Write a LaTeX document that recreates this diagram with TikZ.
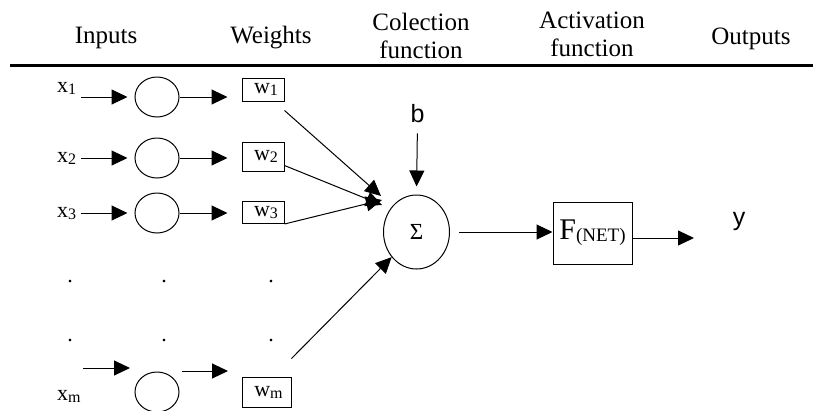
\documentclass[tikz,border=0pt]{standalone}
\usepackage{fontspec}
\setmainfont{Liberation Serif}
\newfontfamily\arialf{Liberation Sans}
\usetikzlibrary{arrows.meta,shapes.geometric}
\newcommand\sublab[2]{{\fontsize{22}{22}\selectfont #1\raisebox{-2pt}{\fontsize{16}{16}\selectfont #2}}}
\begin{document}
\begin{tikzpicture}[x=1pt,y=-1pt,
  hdr/.style={font=\fontsize{25}{28}\selectfont, align=center, inner sep=0pt},
  arr/.style={line width=1pt, -{Triangle[length=16pt,width=15pt]}},
  neuron/.style={draw, line width=1pt, ellipse, minimum width=44pt, minimum height=40pt, inner sep=0pt},
  wbox/.style={draw, line width=1pt, minimum width=42pt, minimum height=23pt, inner sep=0pt},
  lab/.style={inner sep=0pt, anchor=base west},
  dotlab/.style={inner sep=0pt, anchor=base, font=\fontsize{22}{22}\selectfont},
  sanslab/.style={inner sep=0pt, anchor=base, font=\arialf\fontsize{25}{25}\selectfont}]
\useasboundingbox (0,0) rectangle (813,410);

% headers
\node[hdr, anchor=base] (hin) at (106,43) {Inputs};
\node[hdr, anchor=base] (hw) at (271,43) {Weights};
\node[hdr, anchor=north] (hcol) at (421,13) {Colection\\function};
\node[hdr, anchor=north] (hact) at (592,12) {Activation\\function};
\node[hdr, anchor=base] (hout) at (751,44) {Outputs};
\coordinate (rl) at (10,65);
\coordinate (rr) at (813,65);
\draw[line width=3pt] (rl) -- (rr);

% row 1
\node[lab] (x1) at (57,92) {\sublab{x}{1}};
\node[neuron] (c1) at (157,97) {};
\node[wbox] (w1) at (263,89.5) {\hspace*{6pt}\sublab{w}{1}};
\coordinate (s1) at (81,97);
\draw[arr, shorten >=7pt] (s1) -- (c1.west);
\draw[arr, shorten >=14pt] (c1.east) -- (c1.east -| w1.west);

% row 2
\node[lab] (x2) at (57,162) {\sublab{x}{2}};
\node[neuron] (c2) at (157,158) {};
\node[wbox, minimum height=29pt] (w2) at (263,156.5) {\hspace*{6pt}\sublab{w}{2}};
\coordinate (s2) at (81,158);
\draw[arr, shorten >=7pt] (s2) -- (c2.west);
\draw[arr, shorten >=14pt] (c2.east) -- (c2.east -| w2.west);

% row 3
\node[lab] (x3) at (57,217) {\sublab{x}{3}};
\node[neuron] (c3) at (157,213) {};
\node[wbox, minimum height=22pt] (w3) at (263,212.5) {\hspace*{6pt}\sublab{w}{3}};
\coordinate (s3) at (81,213);
\draw[arr, shorten >=7pt] (s3) -- (c3.west);
\draw[arr, shorten >=14pt] (c3.east) -- (c3.east -| w3.west);

% dots
\node[dotlab] (d11) at (70,282) {.};
\node[dotlab] (d12) at (164,282) {.};
\node[dotlab] (d13) at (271,282) {.};
\node[dotlab] (d21) at (70,341) {.};
\node[dotlab] (d22) at (164,341) {.};
\node[dotlab] (d23) at (271,341) {.};

% row m
\node[lab] (xm) at (57,400) {\sublab{x}{m}};
\node[neuron] (cm) at (157,392) {};
\node[wbox, minimum width=49pt, minimum height=30pt] (wm) at (266.5,392) {\hspace*{4pt}\sublab{w}{m}};
\coordinate (am1) at (83,368);
\coordinate (am2) at (130,368);
\coordinate (am3) at (182,371);
\coordinate (am4) at (228,371);
\draw[arr] (am1) -- (am2);
\draw[arr] (am3) -- (am4);

% summation
\node[draw, line width=1pt, ellipse, minimum width=66pt, minimum height=74pt, inner sep=0pt,
      font=\fontsize{23}{23}\selectfont] (sig) at (416.5,232) {Σ};
\node[sanslab] (b) at (417.5,122) {b};
\draw[arr, shorten <=11pt, shorten >=8pt] (b.south) -- (sig.north);

\coordinate (t1) at (381,196);
\coordinate (t2) at (382,205);
\coordinate (t3) at (382,200);
\draw[arr] ([yshift=-9pt]w1.south east) -- (t1);
\draw[arr] ([yshift=-9pt]w2.east) -- (t2);
\draw[arr] (w3.south east) -- (t3);
\draw[arr] ([yshift=18pt]wm.north east) -- (sig);

% activation
\node[draw, line width=1pt, minimum width=79pt, minimum height=62pt, inner sep=0pt] (F) at (592.5,233)
  {{\fontsize{30}{30}\selectfont F}\raisebox{-2pt}{\fontsize{19}{19}\selectfont (NET)}};
\draw[arr, shorten <=9pt] (sig.east) -- (sig.east -| F.west);
\coordinate (fo) at (694,238);
\draw[arr] ([yshift=-5pt]F.east) -- (fo);
\node[sanslab] (y) at (739,225) {y};
\end{tikzpicture}
\end{document}
